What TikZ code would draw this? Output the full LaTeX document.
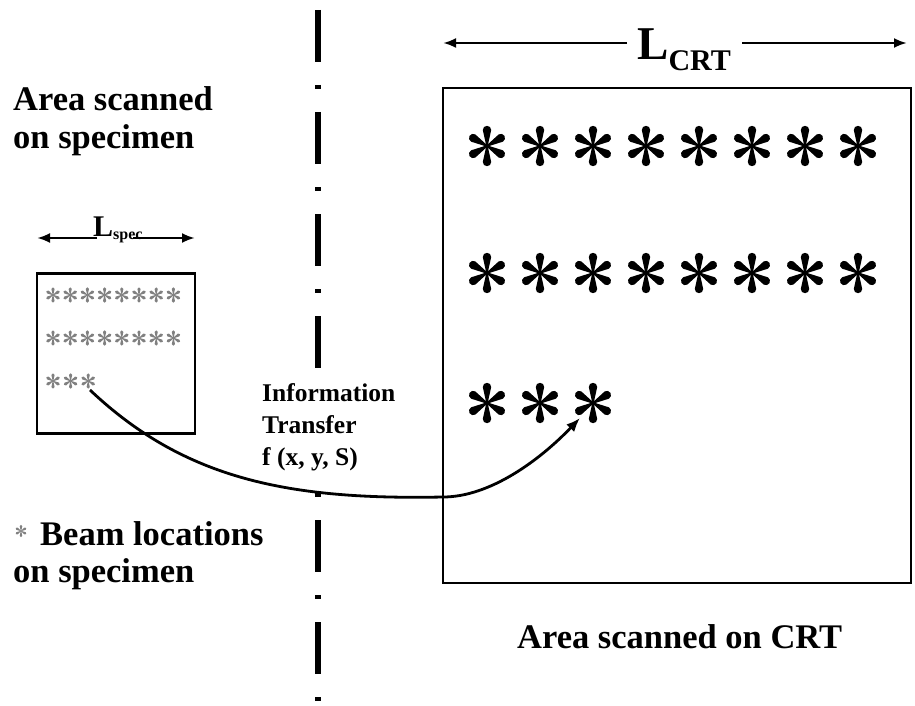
\documentclass[tikz,border=0pt]{standalone}
\usepackage{fontspec}
\setmainfont{Liberation Serif}
\usetikzlibrary{arrows.meta}
\tikzset{
  spokestar/.pic={\foreach \a in {90,30,-30,-90,-150,150}{\fill[rotate=\a] (0,-0.7) -- (16,-4.2) arc[start angle=-90,end angle=90,radius=4.2] -- (0,0.7) -- cycle;}},
  box/.style={draw=black,line width=2.8pt},
  dim/.style={line width=2.6pt,-{Latex[length=13pt,width=10pt]}},
  curvearrow/.style={line width=2.8pt,-{Latex[length=14pt,width=11pt]}},
  axisline/.style={line width=6pt,dash pattern=on 52pt off 23pt on 4pt off 23pt},
  lbl/.style={font=\bfseries\fontsize{34.5}{38}\selectfont,inner sep=0pt,anchor=base west},
  small/.style={black!50}
}
\begin{document}
\begin{tikzpicture}[x=1pt,y=-1pt]
\useasboundingbox (0,0) rectangle (915,706);
% dash-dot axis
\coordinate (axtop) at (318,10);
\coordinate (axbot) at (318,706);
\draw[axisline] (axtop) -- (axbot);
% left labels
\node[lbl] (t1) at (13,111) {Area scanned};
\node[lbl] (t2) at (13,149) {on specimen};
\node[lbl] (b1) at (40,545) {Beam locations};
\node[lbl] (b2) at (13,582) {on specimen};
\pic[small,scale=0.3] at (21,531) {spokestar};
% L spec
\node[inner sep=0pt,anchor=base west,font=\bfseries\fontsize{30}{30}\selectfont] (ls) at (93,236) {L\raisebox{-3pt}{\fontsize{16}{16}\selectfont spec}};
\coordinate (lsl) at (37,238);
\coordinate (lsr) at (195,238);
\coordinate (lsl0) at (97,238);
\coordinate (lsr0) at (133,238);
\draw[dim] (lsl0) -- (lsl);
\draw[dim] (lsr0) -- (lsr);
% specimen box
\node[box,minimum width=158pt,minimum height=160pt,inner sep=0pt] (spec) at (116,353.5) {};
\foreach \i in {0,...,7}{
  \pic[small,scale=0.38] at (53+17.2*\i,295) {spokestar};
  \pic[small,scale=0.38] at (53+17.2*\i,338) {spokestar};
}
\foreach \i in {0,1,2}{\pic[small,scale=0.38] at (53+17.6*\i,381) {spokestar};}
\coordinate (src) at (90,390);
% CRT box
\node[box,minimum width=468pt,minimum height=495pt,inner sep=0pt] (crt) at (677,335.5) {};
\foreach \i in {0,...,7}{
  \pic at (487+53*\i,146) {spokestar};
  \pic at (487+53*\i,273) {spokestar};
}
\foreach \i in {0,1,2}{\pic at (487+53*\i,403) {spokestar};}
\coordinate (tip) at (580,418);
% L CRT
\node[inner sep=0pt,anchor=base west,font=\bfseries\fontsize{47}{47}\selectfont] (lc) at (637,60) {L\raisebox{-11pt}{\fontsize{30}{30}\selectfont CRT}};
\coordinate (lcl) at (443,43);
\coordinate (lcr) at (907,43);
\coordinate (lcl0) at (627,43);
\coordinate (lcr0) at (742,43);
\draw[dim] (lcl0) -- (lcl);
\draw[dim] (lcr0) -- (lcr);
% info transfer
\node[fill=white,inner xsep=3pt,inner ysep=4pt,align=left,anchor=north west,font=\bfseries\fontsize{25.5}{32}\selectfont] (info) at (259,379) {Information\\Transfer\\f (x, y, S)};
% curve
\coordinate (via) at (443,497);
\draw[curvearrow] (src) .. controls (185,480) and (290,500) .. (via) .. controls (490,497) and (540,460) .. (tip);
% CRT caption
\node[lbl] (cap) at (517,648) {Area scanned on CRT};
\end{tikzpicture}
\end{document}
